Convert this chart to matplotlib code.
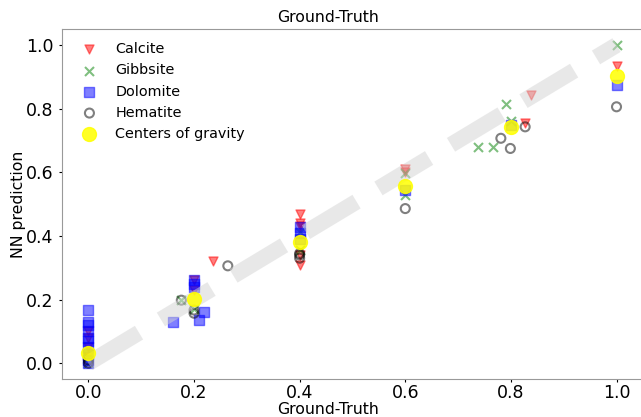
import matplotlib
matplotlib.use("Agg")
import matplotlib.pyplot as plt
import numpy as np

# ground-truth fraction / NN prediction per mineral
calcite_gt = [0.0, 0.0, 0.0, 0.0, 0.2, 0.2, 0.235, 0.4, 0.4, 0.4, 0.4, 0.4, 0.6, 0.6, 0.826, 0.838, 1.0]
calcite_nn = [0.10, 0.08, 0.05, 0.02, 0.26, 0.23, 0.32, 0.47, 0.44, 0.43, 0.34, 0.31, 0.61, 0.60, 0.754, 0.843, 0.935]

gibbsite_gt = [0.0, 0.0, 0.176, 0.2, 0.4, 0.4, 0.6, 0.6, 0.737, 0.766, 0.79, 0.8, 1.0]
gibbsite_nn = [0.0, 0.02, 0.198, 0.17, 0.413, 0.355, 0.528, 0.597, 0.681, 0.681, 0.814, 0.76, 1.0]

dolomite_gt = [0.0, 0.0, 0.0, 0.0, 0.0, 0.0, 0.0, 0.0, 0.0, 0.0, 0.161, 0.2, 0.2, 0.2, 0.219, 0.21,
               0.4, 0.4, 0.4, 0.6, 0.8, 1.0]
dolomite_nn = [0.167, 0.13, 0.12, 0.10, 0.08, 0.07, 0.05, 0.03, 0.01, 0.0, 0.13, 0.263, 0.25, 0.24, 0.161, 0.137,
               0.429, 0.41, 0.39, 0.544, 0.75, 0.874]

hematite_gt = [0.0, 0.0, 0.176, 0.2, 0.2, 0.264, 0.4, 0.4, 0.4, 0.6, 0.781, 0.799, 0.827, 1.0]
hematite_nn = [0.0, 0.01, 0.198, 0.167, 0.157, 0.306, 0.345, 0.34, 0.33, 0.486, 0.707, 0.675, 0.743, 0.806]

center_gt = [0.0, 0.2, 0.4, 0.6, 0.8, 1.0]
center_nn = [0.031, 0.203, 0.381, 0.557, 0.743, 0.903]

fig = plt.figure(figsize=(6.41, 4.17), dpi=100)
ax = fig.add_axes([0.0967, 0.091, 0.9063, 0.839])

ax.scatter(calcite_gt, calcite_nn, marker='v', c='r', alpha=0.5, s=42, label='Calcite')
ax.scatter(gibbsite_gt, gibbsite_nn, marker='x', c='g', alpha=0.5, s=42, label='Gibbsite')
ax.scatter(dolomite_gt, dolomite_nn, marker='s', c='b', alpha=0.5, s=42, label='Dolomite')
ax.scatter(hematite_gt, hematite_nn, marker='o', facecolors='none', edgecolors='k',
           linewidths=1.5, alpha=0.5, s=42, label='Hematite')
ax.plot([0, 1], [0, 1], '--', color='lightgray', alpha=0.5, lw=11.5, zorder=2.5)
ax.scatter(center_gt, center_nn, marker='o', c='yellow', alpha=0.85, s=100, zorder=3,
           label='Centers of gravity')

ax.set_xlim(-0.05, 1.05)
ax.set_ylim(-0.05, 1.05)
ax.set_xticks(np.arange(0, 1.01, 0.2))
ax.set_yticks(np.arange(0, 1.01, 0.2))
ax.tick_params(labelsize=12.5, length=2.5)
ax.tick_params(axis='x', pad=1.0)
for sp in ax.spines.values():
    sp.set_edgecolor('0.6')

# title / x label sit centred on the (wider) original figure, not the axes
fig.text(328 / 641, 1 - 18 / 417, 'Ground-Truth', fontsize=11.3, ha='center', va='center')
fig.text(328 / 641, 0.5 / 417, 'Ground-Truth', fontsize=11.3, ha='center', va='bottom')
ax.set_ylabel('NN prediction', fontsize=11.3)
ax.yaxis.set_label_coords(-0.062, 0.5)
ax.legend(loc='upper left', frameon=False, fontsize=10.4)

plt.savefig('out.png', dpi=100)
